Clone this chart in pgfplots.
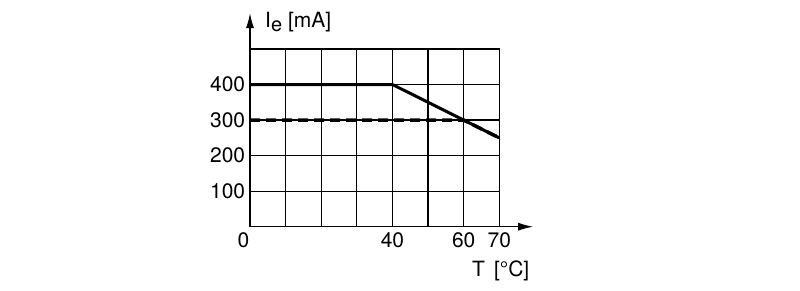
\documentclass[border=0pt]{standalone}
\usepackage{pgfplots}
\pgfplotsset{compat=1.18}
\usepackage{fontspec}
\setmainfont{TeX Gyre Heros}
\usetikzlibrary{arrows.meta}
\begin{document}
\begin{tikzpicture}[x=1pt,y=1pt]
\path[use as bounding box] (0,0) rectangle (800,290);
\begin{axis}[
  at={(250pt,63.3pt)}, anchor=south west, scale only axis,
  width=249.3pt, height=177.7pt,
  xmin=0, xmax=70, ymin=0, ymax=500,
  xtick={10,20,...,70}, xticklabels={,,,40,,60,70},
  ytick={100,200,...,500}, yticklabels={100,200,300,400,},
  grid=major, major grid style={black, line width=1.2pt},
  axis line style={black, line width=1.2pt},
  major tick length=0pt,
  tick label style={font=\fontsize{21}{24}\selectfont},
  /pgf/number format/assume math mode=true,
  xticklabel style={yshift=-2pt},
  yticklabel style={xshift=-1.3pt},
  extra x ticks={0}, extra x tick labels={0},
  extra x tick style={grid=none, xticklabel style={xshift=-6.5pt}},
  clip=false,
]
\addplot[black, line width=3pt] coordinates {(0,400) (40,400) (70,250)};
\addplot[draw=black, line width=3.5pt, line cap=butt, dash pattern=on 10pt off 6pt] coordinates {(0,300) (60,300) (70,250)};
\draw[black, line width=1.2pt, -{Latex[length=15pt,width=8pt]}] (axis cs:0,0) -- (axis cs:0,601);
\draw[black, line width=1.2pt, -{Latex[length=15pt,width=8pt]}] (axis cs:0,0) -- (axis cs:79.5,0);
\end{axis}
\node[font=\fontsize{21}{24}\selectfont, anchor=base west, inner sep=0pt] at (265,262) {I\raisebox{-4pt}{\fontsize{20}{24}\selectfont e} [mA]};
\node[font=\fontsize{21}{24}\selectfont, anchor=base west, inner sep=0pt] at (472,14) {T\hspace{9pt}[°C]};
\end{tikzpicture}
\end{document}
